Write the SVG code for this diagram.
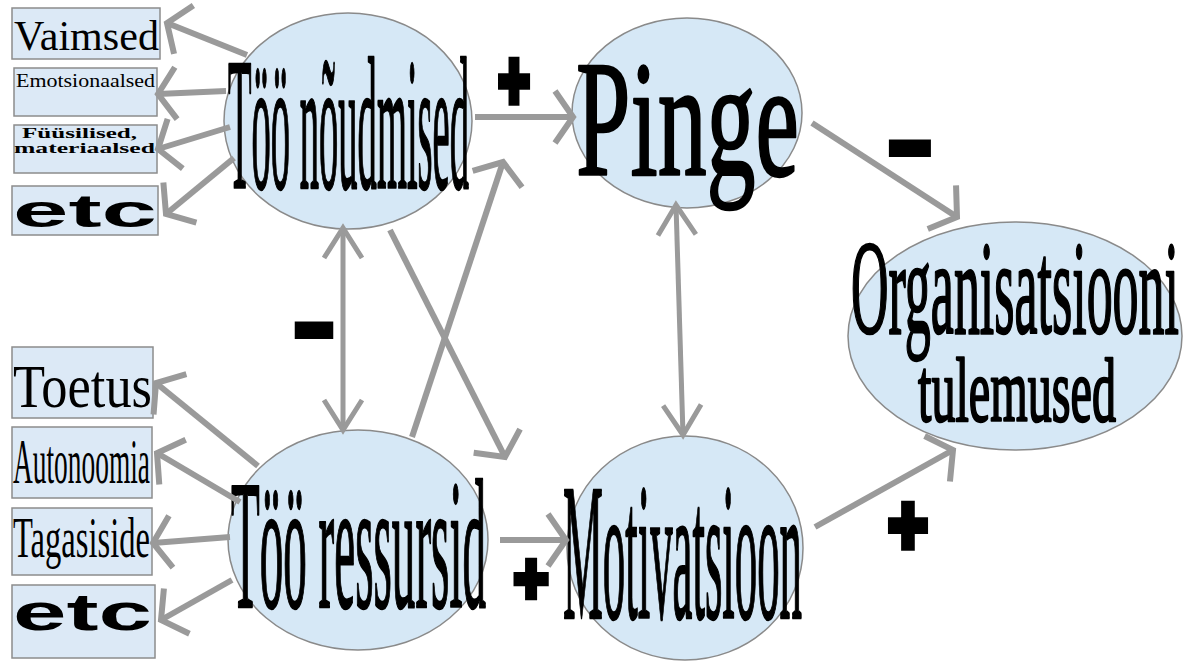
<svg xmlns="http://www.w3.org/2000/svg" width="1186" height="662" viewBox="0 0 1186 662">
  <style>
    .box { fill: #dce9f6; stroke: #8c8c8c; stroke-width: 1.5; }
    .node { fill: #d6e8f6; stroke: #8a8a8a; stroke-width: 1.5; }
    .lbl { font-family: "Liberation Serif", "Times New Roman", serif; fill: #000; }
    .big { stroke: #000; stroke-width: 2.5; stroke-linejoin: round; }
    .wide { font-family: "Liberation Sans", Arial, sans-serif; font-weight: bold; fill: #000; }
    .sign { font-family: "Liberation Sans", Arial, sans-serif; font-weight: bold; fill: #000; stroke: #000; text-anchor: middle; }
    .conn { fill: none; stroke: #9a9a9a; stroke-width: 6; }
    .conn.thin { stroke-width: 5; }
    .head { fill: none; stroke: #9a9a9a; stroke-width: 6; stroke-linejoin: miter; }
  </style>
  <defs>
    <marker id="arr" markerUnits="userSpaceOnUse" viewBox="-40 -40 80 80" markerWidth="80" markerHeight="80" refX="0" refY="0" orient="auto">
      <path class="head" d="M -18 -26 L 0 0 L -18 26"/>
    </marker>
    <marker id="arrN" markerUnits="userSpaceOnUse" viewBox="-40 -40 80 80" markerWidth="80" markerHeight="80" refX="0" refY="0" orient="auto-start-reverse">
      <path class="head" style="stroke-width:5" d="M -30 -19 L 0 0 L -30 19"/>
    </marker>
  </defs>

  <rect width="1186" height="662" fill="#ffffff"/>

  <!-- demand categories -->
  <g id="box-vaimsed">
    <rect class="box" x="12" y="8" width="148" height="51"/>
    <text class="lbl" x="14" y="50" font-size="42" textLength="145" lengthAdjust="spacingAndGlyphs">Vaimsed</text>
  </g>
  <g id="box-emotsionaalsed">
    <rect class="box" x="14" y="68" width="143" height="48"/>
    <text class="lbl" x="16" y="87" font-size="19" textLength="139" lengthAdjust="spacingAndGlyphs">Emotsionaalsed</text>
  </g>
  <g id="box-fuusilised">
    <rect class="box" x="14" y="125" width="143" height="48"/>
    <text class="lbl" x="22" y="138" font-size="15" font-weight="bold" textLength="115" lengthAdjust="spacingAndGlyphs">Füüsilised,</text>
    <text class="lbl" x="14" y="153" font-size="15" font-weight="bold" textLength="141" lengthAdjust="spacingAndGlyphs">materiaalsed</text>
  </g>
  <g id="box-etc-top">
    <rect class="box" x="12" y="186" width="146" height="49"/>
    <text class="wide" x="13" y="227" font-size="46" textLength="144" lengthAdjust="spacingAndGlyphs">etc</text>
  </g>

  <!-- resource categories -->
  <g id="box-toetus">
    <rect class="box" x="12" y="347" width="141" height="71"/>
    <text class="lbl" x="13" y="407" font-size="62" textLength="139" lengthAdjust="spacingAndGlyphs">Toetus</text>
  </g>
  <g id="box-autonoomia">
    <rect class="box" x="12" y="427" width="140" height="71"/>
    <text class="lbl" x="13" y="483" font-size="63" textLength="137" lengthAdjust="spacingAndGlyphs">Autonoomia</text>
  </g>
  <g id="box-tagasiside">
    <rect class="box" x="12" y="508" width="140" height="67"/>
    <text class="lbl" x="13" y="557" font-size="58" textLength="137" lengthAdjust="spacingAndGlyphs">Tagasiside</text>
  </g>
  <g id="box-etc-bottom">
    <rect class="box" x="12" y="585" width="143" height="73"/>
    <text class="wide" x="13" y="630" font-size="52" textLength="139" lengthAdjust="spacingAndGlyphs">etc</text>
  </g>

  <!-- main concepts -->
  <g id="node-noudmised">
    <ellipse class="node" cx="348" cy="121" rx="124" ry="108"/>
    <text class="lbl big" x="228" y="188" font-size="188" textLength="241" lengthAdjust="spacingAndGlyphs">Töö nõudmised</text>
  </g>
  <g id="node-pinge">
    <ellipse class="node" cx="687" cy="113" rx="115" ry="95"/>
    <text class="lbl big" x="576" y="175" font-size="166" textLength="223" lengthAdjust="spacingAndGlyphs">Pinge</text>
  </g>
  <g id="node-tulemused">
    <ellipse class="node" cx="1015" cy="336" rx="167" ry="114"/>
    <text class="lbl big" x="851" y="333" font-size="134" textLength="328" lengthAdjust="spacingAndGlyphs">Organisatsiooni</text>
    <text class="lbl big" x="918" y="421" font-size="92" textLength="198" lengthAdjust="spacingAndGlyphs">tulemused</text>
  </g>
  <g id="node-ressursid">
    <ellipse class="node" cx="358" cy="540" rx="130" ry="110"/>
    <text class="lbl big" x="231" y="607" font-size="184" textLength="255" lengthAdjust="spacingAndGlyphs">Töö ressursid</text>
  </g>
  <g id="node-motivatsioon">
    <ellipse class="node" cx="685" cy="548" rx="118" ry="112"/>
    <text class="lbl big" x="563" y="618" font-size="194" textLength="239" lengthAdjust="spacingAndGlyphs">Motivatsioon</text>
  </g>

  <!-- connectors -->
  <g id="connectors">
    <path class="conn" d="M247,55 L167,23" marker-end="url(#arr)"/>
    <path class="conn" d="M226,91 L158,94" marker-end="url(#arr)"/>
    <path class="conn" d="M230,127 L158,149" marker-end="url(#arr)"/>
    <path class="conn" d="M234,158 L166,214" marker-end="url(#arr)"/>

    <path class="conn" d="M258,466 L156,383" marker-end="url(#arr)"/>
    <path class="conn" d="M240,502 L157,453" marker-end="url(#arr)"/>
    <path class="conn" d="M230,537 L153,543" marker-end="url(#arr)"/>
    <path class="conn" d="M232,580 L161,620" marker-end="url(#arr)"/>

    <path class="conn" d="M475,117 L573,117" marker-end="url(#arr)"/>
    <path class="conn thin" d="M343,430 L343,228" marker-start="url(#arrN)" marker-end="url(#arrN)"/>
    <path class="conn" d="M390,230 L505,457" marker-end="url(#arr)"/>
    <path class="conn" d="M412,437 L503,162" marker-end="url(#arr)"/>
    <path class="conn" d="M500,540 L566,540" marker-end="url(#arr)"/>
    <path class="conn thin" d="M683,435 L676,205" marker-start="url(#arrN)" marker-end="url(#arrN)"/>
    <path class="conn" d="M812,123 L957,217" marker-end="url(#arr)"/>
    <path class="conn" d="M815,527 L953,450" marker-end="url(#arr)"/>

    <!-- polarity signs -->
    <text class="sign" transform="translate(514,79) scale(1,1.5)" y="19" font-size="54" stroke-width="5">+</text>
    <text class="sign" transform="translate(314,330) scale(1.1,1)" y="34" font-size="130" stroke-width="2">-</text>
    <text class="sign" transform="translate(531,578) scale(1.1,1.3)" y="19" font-size="54" stroke-width="5">+</text>
    <text class="sign" transform="translate(910,148) scale(1.2,1)" y="34" font-size="130" stroke-width="2">-</text>
    <text class="sign" transform="translate(908,525) scale(1.25,1.55)" y="19" font-size="54" stroke-width="5">+</text>
  </g>
</svg>
